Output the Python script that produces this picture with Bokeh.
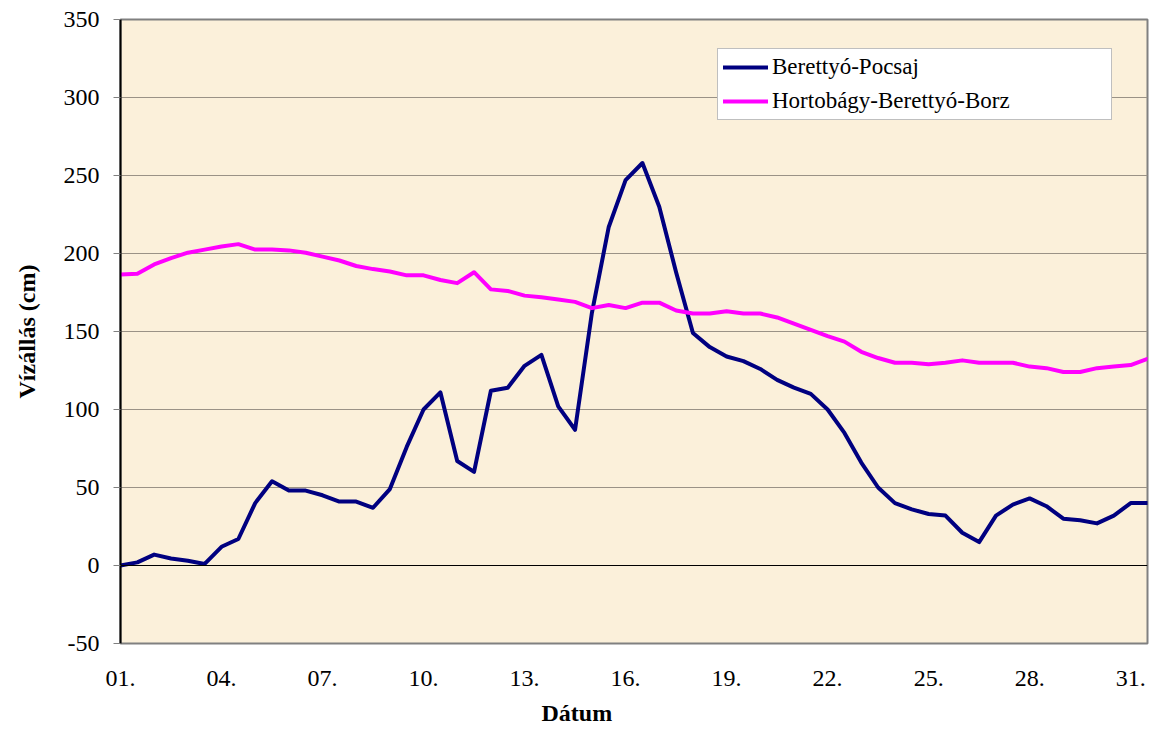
from bokeh.plotting import figure
from bokeh.models import Range1d, FixedTicker, Legend, LegendItem, Span, Title
from bokeh.embed import file_html
from bokeh.resources import INLINE

# half-day readings, day of month
days = [1.0, 1.5, 2.0, 2.5, 3.0, 3.5, 4.0, 4.5, 5.0, 5.5,
        6.0, 6.5, 7.0, 7.5, 8.0, 8.5, 9.0, 9.5, 10.0, 10.5,
        11.0, 11.5, 12.0, 12.5, 13.0, 13.5, 14.0, 14.5, 15.0, 15.5,
        16.0, 16.5, 17.0, 17.5, 18.0, 18.5, 19.0, 19.5, 20.0, 20.5,
        21.0, 21.5, 22.0, 22.5, 23.0, 23.5, 24.0, 24.5, 25.0, 25.5,
        26.0, 26.5, 27.0, 27.5, 28.0, 28.5, 29.0, 29.5, 30.0, 30.5,
        31.0, 31.5]

berettyo_pocsaj = [0, 2, 7, 4.5, 3, 1, 12, 17, 40, 54,
                   48, 48, 45, 41, 41, 37, 49, 76, 100, 111,
                   67, 60, 112, 114, 128, 135, 102, 87, 162, 217,
                   247, 258, 230, 188, 149, 140, 134, 131, 126, 119,
                   114, 110, 100, 85, 66, 50, 40, 36, 33, 32,
                   21, 15, 32, 39, 43, 38, 30, 29, 27, 32,
                   40, 40]

hortobagy_berettyo_borz = [186.5, 187, 193, 197, 200.5, 202.5, 204.5, 206, 202.5, 202.5,
                           202, 200.5, 198, 195.5, 192, 190, 188.5, 186, 186, 183,
                           181, 188, 177, 176, 173, 172, 170.5, 169, 165, 167,
                           165, 168.5, 168.5, 163.5, 161.5, 161.5, 163, 161.5, 161.5, 159,
                           155, 151, 147, 143.5, 137, 133, 130, 130, 129, 130,
                           131.5, 130, 130, 130, 127.5, 126.5, 124, 124, 126.5, 127.5,
                           128.5, 132.5]

series_names = ["Berettyó-Pocsaj", "Hortobágy-Berettyó-Borz"]
tick_days = [1, 4, 7, 10, 13, 16, 19, 22, 25, 28, 31]
tick_labels = ["01.", "04.", "07.", "10.", "13.", "16.", "19.", "22.", "25.", "28.", "31."]
y_ticks = [-50, 0, 50, 100, 150, 200, 250, 300, 350]
y_labels = ["-50", "0", "50", "100", "150", "200", "250", "300", "350"]

FONT = "Liberation Serif"

p = figure(width=1149, height=734, output_backend="svg", toolbar_location=None,
           x_range=Range1d(1, 31.5), y_range=Range1d(-50, 350),
           min_border_left=120, min_border_top=19, min_border_right=2,
           min_border_bottom=90)

p.background_fill_color = "#FBF0DA"
p.border_fill_color = "white"
p.outline_line_color = "#808080"
p.outline_line_width = 2

r1 = p.line(days, berettyo_pocsaj, line_color="#000080", line_width=4,
            line_join="round", line_cap="round")
r2 = p.line(days, hortobagy_berettyo_borz, line_color="#FF00FF", line_width=4,
            line_join="round", line_cap="round")

p.add_layout(Span(location=0, dimension="width", line_color="black", line_width=1))

# x axis
p.xaxis.ticker = FixedTicker(ticks=tick_days)
p.xaxis.major_label_overrides = {d: l for d, l in zip(tick_days, tick_labels)}
p.xaxis.axis_line_color = None
p.xaxis.major_tick_line_color = None
p.xaxis.minor_tick_line_color = None
p.xaxis.major_label_standoff = 21
p.xaxis.major_label_text_font = FONT
p.xaxis.major_label_text_font_size = "24px"
p.xaxis.major_label_text_color = "black"

# x axis title, centred over the whole chart as in the original
p.add_layout(Title(text="Dátum", align="left", offset=421, standoff=18,
                   text_font=FONT, text_font_size="24px", text_font_style="bold",
                   text_color="black"), "below")

# y axis
p.yaxis.ticker = FixedTicker(ticks=y_ticks)
p.yaxis.major_label_overrides = {t: l for t, l in zip(y_ticks, y_labels)}
p.yaxis.axis_line_color = "black"
p.yaxis.axis_line_width = 2
p.yaxis.major_tick_line_color = "#808080"
p.yaxis.major_tick_out = 7
p.yaxis.major_tick_in = 0
p.yaxis.minor_tick_line_color = None
p.yaxis.major_label_standoff = 14
p.yaxis.major_label_text_font = FONT
p.yaxis.major_label_text_font_size = "24px"
p.yaxis.major_label_text_color = "black"
p.yaxis.axis_label = "Vízállás (cm)"
p.yaxis.axis_label_text_font = FONT
p.yaxis.axis_label_text_font_size = "24px"
p.yaxis.axis_label_text_font_style = "bold"
p.yaxis.axis_label_text_color = "black"
p.yaxis.axis_label_standoff = 21

p.xgrid.grid_line_color = None
p.ygrid.ticker = FixedTicker(ticks=y_ticks)
p.ygrid.grid_line_color = "#9a9286"
p.ygrid.grid_line_width = 1

legend = Legend(items=[LegendItem(label=series_names[0], renderers=[r1]),
                       LegendItem(label=series_names[1], renderers=[r2])],
                location=(597, 523))
legend.padding = 5
legend.spacing = 8
legend.glyph_width = 45
legend.glyph_height = 26
legend.label_height = 26
legend.label_width = 334
legend.label_standoff = 4
legend.label_text_font = FONT
legend.label_text_font_size = "23px"
legend.label_text_color = "black"
legend.border_line_color = "#808080"
legend.border_line_width = 1
legend.background_fill_color = "white"
legend.background_fill_alpha = 1
p.add_layout(legend, "center")

open("out.html", "w").write(file_html(p, INLINE))
